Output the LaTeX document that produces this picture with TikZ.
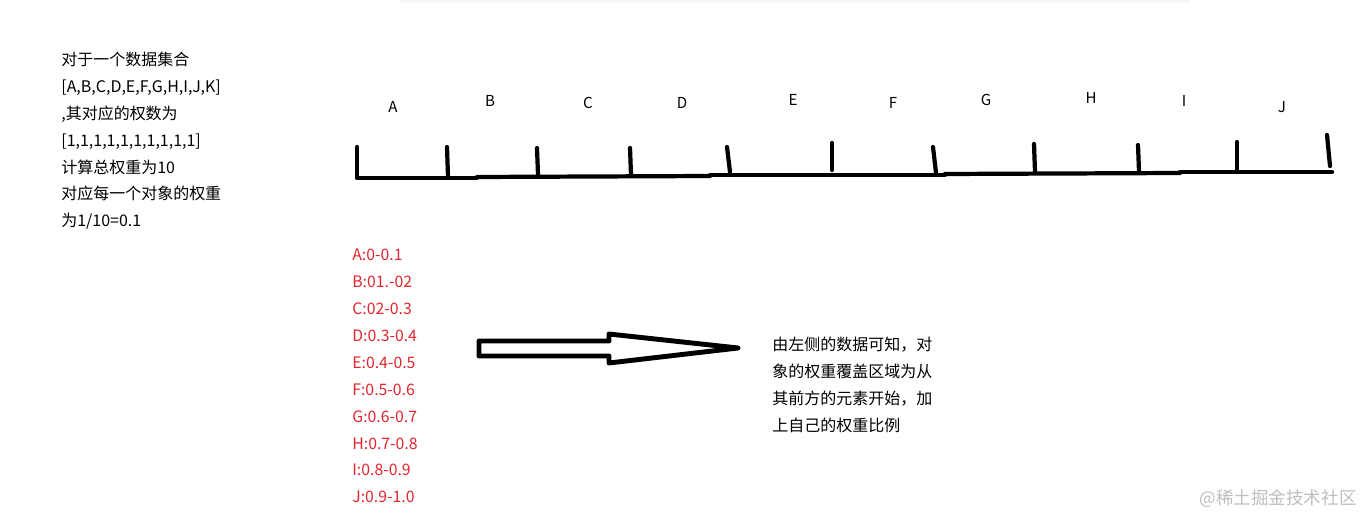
\documentclass[tikz,border=0pt]{standalone}
\usepackage{fontspec}
\setmainfont{Noto Sans CJK SC}
\definecolor{listred}{RGB}{224,38,46}
\definecolor{markgray}{RGB}{190,190,190}

\begin{document}
\begin{tikzpicture}[x=0.02cm,y=-0.02cm,
    ruler/.style={line width=2.4pt,line cap=round},
    letter/.style={inner sep=0pt,font=\fontsize{8.6pt}{10pt}\selectfont},
    note/.style={anchor=north west,inner sep=0pt,align=left,font=\fontsize{9.1pt}{15.25pt}\selectfont}]
  \useasboundingbox (0,0) rectangle (1364,516);
  \fill[black!3] (400,0) rectangle (1190,3);
  \node[note] (given) at (61,52) {对于一个数据集合\\{[}A,B,C,D,E,F,G,H,I,J,K{]}\\,其对应的权数为\\{[}1,1,1,1,1,1,1,1,1,1{]}\\计算总权重为10\\对应每一个对象的权重\\为1/10=0.1};
    \draw[ruler] (357,178) -- (477,178);
    \draw[ruler] (477,177) -- (710,176);
    \draw[ruler] (710,175) -- (945,175);
    \draw[ruler] (945,174) -- (1180,173);
    \draw[ruler] (1180,172) -- (1332,172);
    \draw[ruler] (357,147) -- (357,177);
    \draw[ruler] (447,147) -- (448,177);
    \draw[ruler] (537,148) -- (538,175);
    \draw[ruler] (630,148) -- (631,175);
    \draw[ruler] (727,147) -- (730,172);
    \draw[ruler] (832,143) -- (832,170);
    \draw[ruler] (933,147) -- (936,173);
    \draw[ruler] (1034,144) -- (1035,172);
    \draw[ruler] (1138,145) -- (1139,172);
    \draw[ruler] (1237,142) -- (1237,170);
    \draw[ruler] (1327,135) -- (1330,166);
  \node[letter] (labA) at (393,107) {A};
  \node[letter] (labB) at (490,101) {B};
  \node[letter] (labC) at (588,103) {C};
  \node[letter] (labD) at (682,103) {D};
  \node[letter] (labE) at (793,100) {E};
  \node[letter] (labF) at (893,103) {F};
  \node[letter] (labG) at (986,100) {G};
  \node[letter] (labH) at (1091,98) {H};
  \node[letter] (labI) at (1184,101) {I};
  \node[letter] (labJ) at (1282,107) {J};
  \node[note,text=listred,font=\fontsize{9pt}{15.3pt}\selectfont] (ranges) at (352,249) {A:0-0.1\\B:01.-02\\C:02-0.3\\D:0.3-0.4\\E:0.4-0.5\\F:0.5-0.6\\G:0.6-0.7\\H:0.7-0.8\\I:0.8-0.9\\J:0.9-1.0};
    \draw[line width=2.8pt,line join=round] (479,341) -- (609,341) -- (609,334) -- (738,348) -- (609,363) -- (609,356) -- (479,356) -- cycle;
  \node[note] (summary) at (772,337) {由左侧的数据可知，对\\象的权重覆盖区域为从\\其前方的元素开始，加\\上自己的权重比例};
  \node[anchor=east,inner sep=0pt,text=markgray,font=\fontsize{10pt}{12pt}\selectfont] (mark) at (1357,499) {@稀土掘金技术社区};
\end{tikzpicture}
\end{document}
